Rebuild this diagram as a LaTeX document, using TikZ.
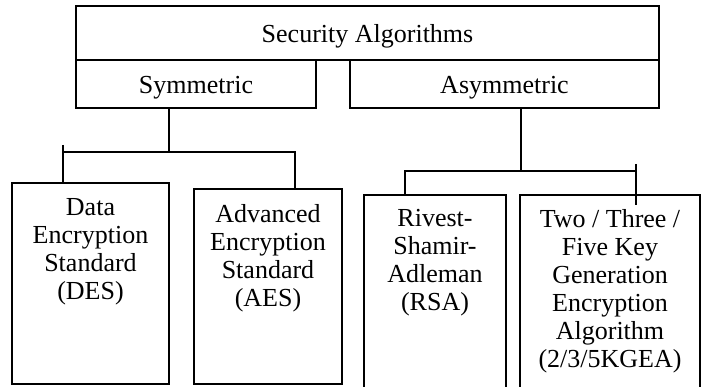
\documentclass[tikz,border=0pt]{standalone}
\usepackage{fontspec}
\setmainfont{Liberation Serif}
\usetikzlibrary{positioning}

\begin{document}
\begin{tikzpicture}[x=1pt, y=-1pt, font=\fontsize{26}{28}\selectfont]
    \tikzstyle{box} = [rectangle, draw=black, line width=1.6pt, inner sep=0pt, align=center, text height=20pt, text depth=0pt]
    \tikzstyle{leaftext} = [inner sep=0pt, align=center]
    \tikzstyle{link} = [line width=1.6pt]
    \clip (0,0) rectangle (704,387);

    \node[box, minimum width=583, minimum height=54] (sec) at (367.5, 33) {Security Algorithms};
    \node[box, minimum width=240, minimum height=48] (sym) at (196, 84) {Symmetric};
    \node[box, minimum width=309, minimum height=48] (asym) at (504.5, 84) {Asymmetric};

    \node[box, minimum width=157, minimum height=201] (des) at (90.5, 283.5) {};
    \node[box, minimum width=148, minimum height=195] (aes) at (268, 286.5) {};
    \node[box, minimum width=142, minimum height=205] (rsa) at (435, 297.5) {};
    \node[box, minimum width=180, minimum height=205] (kgea) at (610, 297.5) {};

    \node[leaftext, below=16pt of des.north] (destext) {Data\\Encryption\\Standard\\(DES)};
    \node[leaftext, below=16pt of aes.north] (aestext) {Advanced\\Encryption\\Standard\\(AES)};
    \node[leaftext, below=15pt of rsa.north] (rsatext) {Rivest-\\Shamir-\\Adleman\\(RSA)};
    \node[leaftext, below=15pt of kgea.north] (kgeatext) {Two / Three /\\Five Key\\Generation\\Encryption\\Algorithm\\(2/3/5KGEA)};

    % symmetric branch
    \coordinate (symbar) at (169, 152);
    \coordinate (symL) at (63, 145);
    \coordinate (symR) at (295, 152);
    \draw[link] (sym.south -| symbar) -- (symbar);
    \draw[link] (symL) -- (des.north -| symL);
    \draw[link] (symL |- symR) -- (symR) -- (aes.north -| symR);

    % asymmetric branch
    \coordinate (asymbar) at (521, 171);
    \coordinate (asymL) at (405, 171);
    \coordinate (asymR) at (636, 164);
    \coordinate (asymRend) at (636, 205);
    \draw[link] (asym.south -| asymbar) -- (asymbar);
    \draw[link] (rsa.north -| asymL) -- (asymL) -- (asymR |- asymL);
    \draw[link] (asymR) -- (asymRend);
\end{tikzpicture}
\end{document}
